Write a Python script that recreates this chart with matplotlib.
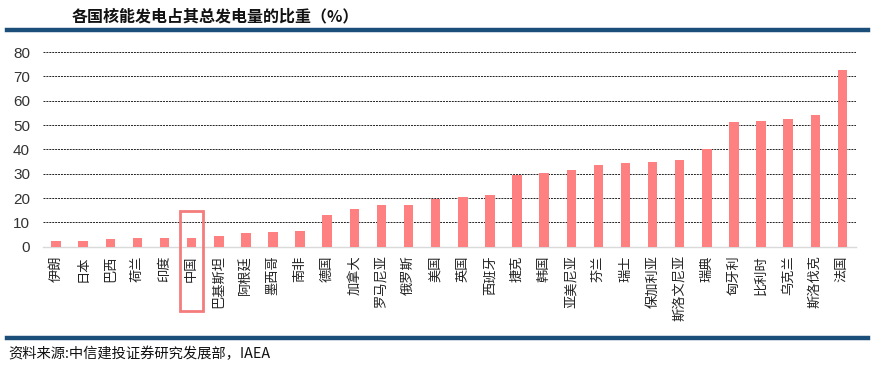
import matplotlib.pyplot as plt
from matplotlib.patches import Rectangle
from matplotlib.lines import Line2D

plt.rcParams['font.family'] = ['Noto Sans CJK SC', 'DejaVu Sans']

# 各国核能发电占比（%）
countries = ["伊朗", "日本", "巴西", "荷兰", "印度", "中国", "巴基斯坦", "阿根廷", "墨西哥", "南非",
             "德国", "加拿大", "罗马尼亚", "俄罗斯", "美国", "英国", "西班牙", "捷克", "韩国", "亚美尼亚",
             "芬兰", "瑞士", "保加利亚", "斯洛文尼亚", "瑞典", "匈牙利", "比利时", "乌克兰", "斯洛伐克", "法国"]
share = [2.2, 2.2, 3.0, 3.5, 3.5, 3.5, 4.4, 5.6, 6.1, 6.5,
         13.2, 15.7, 17.2, 17.0, 19.8, 20.4, 21.3, 29.5, 30.3, 31.5,
         33.7, 34.5, 35.0, 35.5, 40.2, 51.3, 51.7, 52.4, 54.2, 72.6]
yticks = [0, 10, 20, 30, 40, 50, 60, 70, 80]
highlight = "中国"

fig = plt.figure(figsize=(8.77, 3.68), dpi=100)
ax = fig.add_axes([0.0485, 0.3296, 0.9275, 0.529])

x = range(len(countries))
ax.bar(x, share, width=0.35, color='#FF8080', zorder=3)

ax.set_xlim(-0.5, len(countries) - 0.5)
ax.set_ylim(0, 80)
ax.set_yticks(yticks)
ax.set_xticks(list(x))
ax.set_xticklabels(countries, rotation=90, fontsize=9.5, color='#222222')
ax.tick_params(axis='both', length=0)
ax.tick_params(axis='y', pad=9, labelsize=11, labelcolor='#333333')
ax.tick_params(axis='x', pad=6)
for lbl in ax.get_yticklabels():
    lbl.set_family(['Liberation Sans'])

ax.grid(axis='y', linestyle=(0, (2, 1)), linewidth=0.7, color='#222222', zorder=0)
ax.yaxis.get_gridlines()[0].set_visible(False)
for s in ['left', 'right', 'top']:
    ax.spines[s].set_visible(False)
ax.spines['bottom'].set_color('#D9D9D9')
ax.spines['bottom'].set_linewidth(1)

# highlight box around China
i = countries.index(highlight)
ax.add_patch(Rectangle((i - 0.42, -26.5), 0.84, 41.3, fill=False, edgecolor='#F47C7C',
                       linewidth=2, clip_on=False, zorder=4))

fig.text(0.082, 0.955, "各国核能发电占其总发电量的比重（%）", fontsize=11.5, fontweight='bold',
         va='center', ha='left', color='#111111')
fig.add_artist(Line2D([0.008, 0.99], [0.918, 0.918], color='#1B4F7A', linewidth=3.2))
fig.add_artist(Line2D([0.008, 0.99], [0.081, 0.081], color='#1B4F7A', linewidth=3.2))
fig.text(0.009, 0.038, "资料来源:中信建投证券研究发展部，IAEA", fontsize=10.3, style='italic',
         va='center', ha='left', color='#111111')

fig.savefig('out.png', dpi=100)
